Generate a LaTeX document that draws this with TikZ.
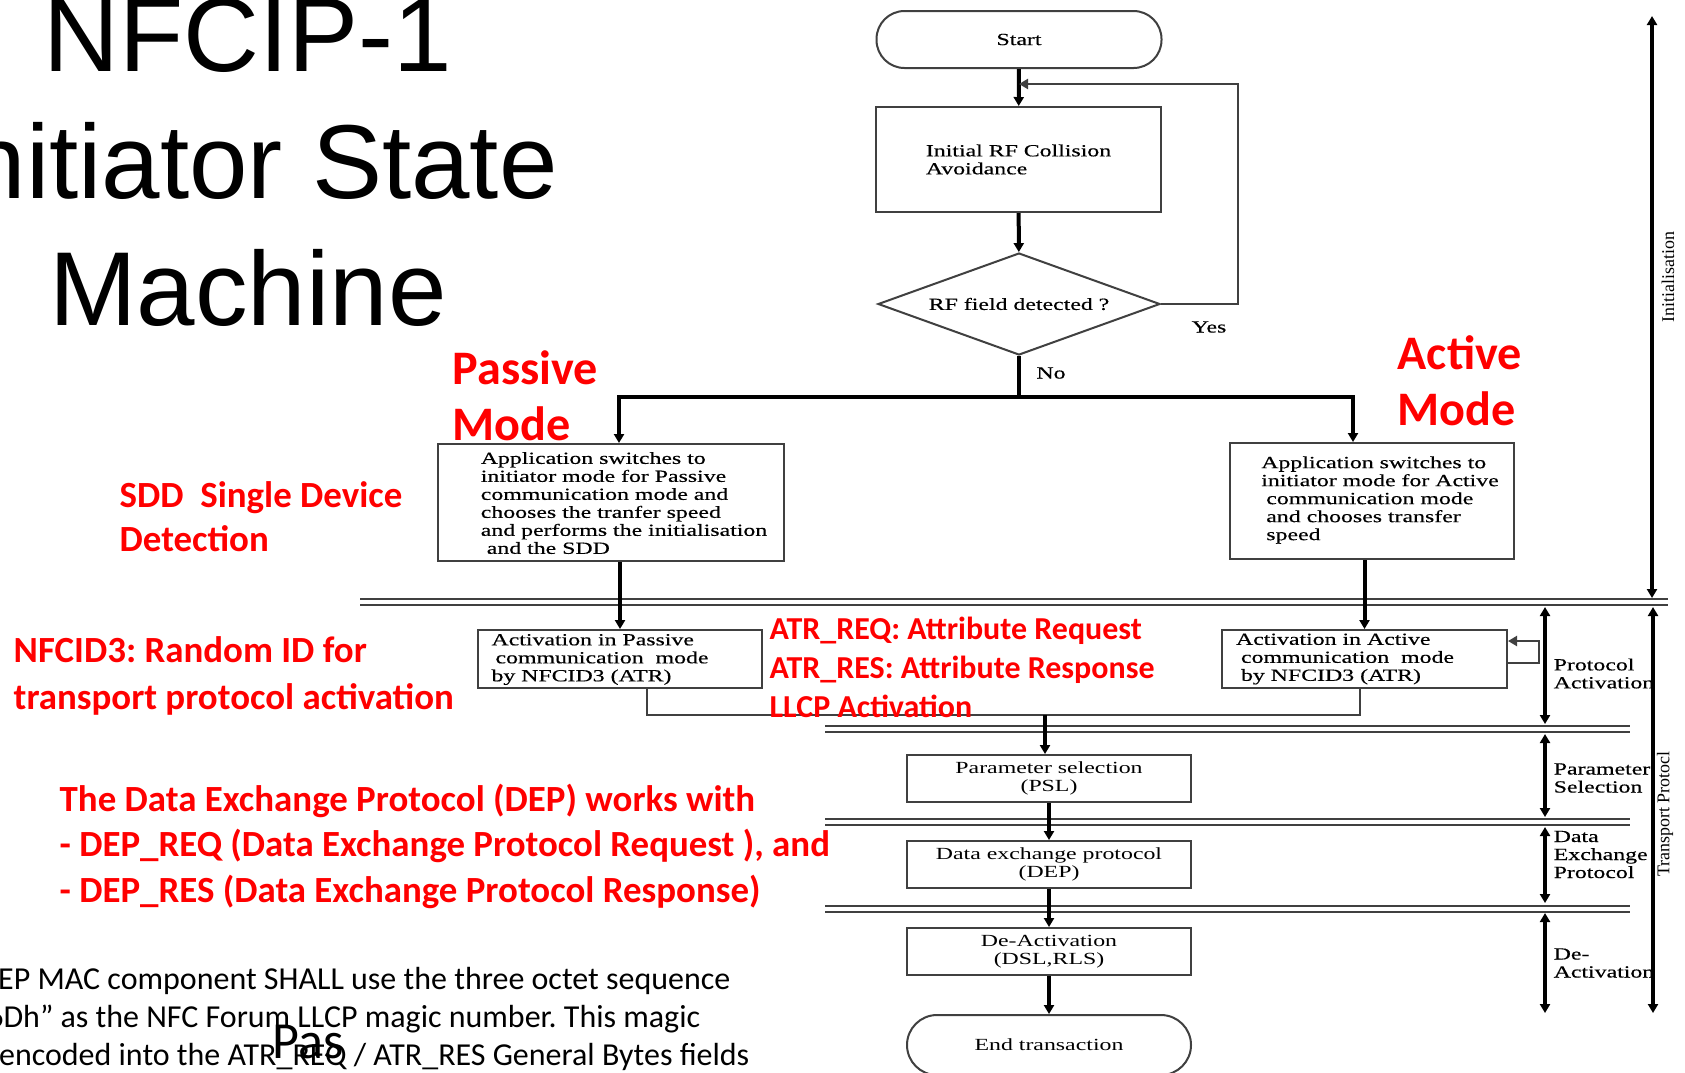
\documentclass[tikz,border=0pt]{standalone}
\usepackage{fontspec}
\setmainfont{Liberation Serif}
\newfontfamily\flowfont{Liberation Serif}[FakeStretch=1.4]
\newfontfamily\heavyflow{Liberation Serif}[FakeStretch=1.4, FakeBold=0.4]
\newfontfamily\slidefont{Carlito}
\newfontfamily\titlefont{Liberation Sans}
\usetikzlibrary{arrows.meta, shapes.geometric}

\newcommand{\flowsize}{\fontsize{4.84pt}{5.12pt}\selectfont}
\frenchspacing

\begin{document}
\begin{tikzpicture}[x=0.1mm, y=-0.1mm, >={Triangle[length=0.9mm, width=1mm]},
    box/.style={draw=black!75, line width=0.2mm, inner sep=0pt},
    term/.style={box, rounded corners=2.8mm},
    ftxt/.style={font=\heavyflow\flowsize, align=left, inner sep=0pt},
    ctxt/.style={font=\heavyflow\flowsize, align=center, inner sep=0pt},
    ptxt/.style={font=\flowfont\flowsize, align=center, inner sep=0pt},
    trunk/.style={line width=0.4mm},
    flow/.style={trunk, ->},
    loopline/.style={line width=0.25mm, black!75},
    sepline/.style={line width=0.18mm, black!75},
    span/.style={<->, line width=0.4mm},
    redtxt/.style={text=red, inner sep=0pt, anchor=base west, align=left},
    bodytxt/.style={inner sep=0pt, anchor=base east,
                    font=\slidefont\fontsize{9.1pt}{10.8pt}\selectfont}]
  \useasboundingbox (0,0) rectangle (1685,1072);
  \clip (0,0) rectangle (1685,1072);
  \fill[white] (0,0) rectangle (1685,1072);

  % Phase separators (double lines)
  \foreach \ya/\xa/\xb in {599/360/1668, 726/825/1630, 819/825/1630, 906/825/1630} {
    \draw[sepline] (\xa,\ya) -- (\xb,\ya);
    \draw[sepline] (\xa,{\ya+6}) -- (\xb,{\ya+6});
  }

  % Flow chart states
  \node[term, minimum width=28.5mm, minimum height=5.7mm, ctxt] (start) at (1019,39.5) {Start};
  \node[box, minimum width=28.5mm, minimum height=10.5mm, ftxt] (rfca) at (1018.5,159.5)
    {Initial RF Collision\\Avoidance};
  \node[box, diamond, aspect=2.8, minimum width=28.2mm, minimum height=10.2mm, ctxt] (chk)
    at (1019,304) {RF field detected ?};
  \node[ctxt] (yes) at (1209,327) {Yes};
  \node[ctxt] (no) at (1051,373) {No};

  \node[box, minimum width=34.6mm, minimum height=11.7mm] (passive) at (611,502.5) {};
  \node[ftxt] (passiveT) at (624,503)
    {Application switches to\\initiator mode for Passive\\communication mode and\\chooses the tranfer speed\\and performs the initialisation\\\hspace*{0.6mm}and the SDD};
  \node[box, minimum width=28.4mm, minimum height=11.6mm] (active) at (1372,501) {};
  \node[ftxt] (activeT) at (1380,500)
    {Application switches to\\initiator mode for Active\\\hspace*{0.5mm}communication mode\\\hspace*{0.5mm}and chooses transfer\\\hspace*{0.5mm}speed};

  \node[box, minimum width=28.4mm, minimum height=5.8mm] (actpas) at (620,659) {};
  \node[ftxt] (actpasT) at (600,659.5)
    {Activation in Passive\\\hspace*{0.4mm}communication\ \ mode\\by NFCID3 (ATR)};
  \node[box, minimum width=28.5mm, minimum height=5.8mm] (actact) at (1364.5,659) {};
  \node[ftxt] (actactT) at (1345,659)
    {Activation in Active\\\hspace*{0.5mm}communication\ \ mode\\\hspace*{0.5mm}by NFCID3 (ATR)};

  \node[box, minimum width=28.4mm, minimum height=4.7mm, ptxt] (psl) at (1049,778.5)
    {Parameter selection\\(PSL)};
  \node[box, minimum width=28.4mm, minimum height=4.7mm, ptxt] (dep) at (1049,864.5)
    {Data exchange protocol\\(DEP)};
  \node[box, minimum width=28.4mm, minimum height=4.7mm, ptxt] (deact) at (1049,951.5)
    {De-Activation\\(DSL,RLS)};
  \node[term, rounded corners=3mm, minimum width=28.4mm, minimum height=6mm, ptxt] (endt)
    at (1049,1045) {End transaction};

  % Transitions
  \coordinate (fbR) at (1238,84);
  \coordinate (split) at (1019,397);
  \coordinate (merge) at (1045,715);
  \draw[flow] (start) -- (rfca);
  \draw[flow] (rfca) -- (chk);
  \draw[loopline, ->] (chk.east) -| (fbR) -- (start.south |- fbR);
  \draw[trunk] (chk.south) -- (split);
  \draw[flow] (split) -| ([xshift=0.8mm]passive.north);
  \draw[flow] (split) -| ([xshift=-1.9mm]active.north);
  \draw[flow] (actpas.north |- passive.south) -- (actpas.north);
  \draw[flow] (actact.north |- active.south) -- (actact.north);
  \draw[loopline] ([xshift=2.7mm]actpas.south) |- (merge) -| ([xshift=-0.45mm]actact.south);
  \draw[loopline, ->] ([yshift=-0.4mm]actact.east) -- ++(3.1mm,0) |- ([yshift=1.8mm]actact.east);
  \draw[flow] (merge) -- (merge |- psl.north);
  \draw[flow] (psl) -- (dep);
  \draw[flow] (dep) -- (deact);
  \draw[flow] (deact) -- (endt);

  % Phase labels and spans
  \node[ftxt, anchor=west] (paL) at (1553,673.5) {Protocol\\Activation};
  \node[ftxt, anchor=west] (psL) at (1553,778) {Parameter\\Selection};
  \node[ftxt, anchor=west] (deL) at (1553,854.5) {Data\\Exchange\\Protocol};
  \node[ftxt, anchor=west] (daL) at (1553,963) {De-\\Activation};
  \node[font=\fontsize{5.1pt}{6pt}\selectfont, rotate=90, inner sep=0pt] (initL) at (1668,277) {Initialisation};
  \node[font=\fontsize{5.1pt}{6pt}\selectfont, rotate=90, inner sep=0pt] (tpL) at (1665,814) {Transport Protocl};

  \coordinate (initTop) at (1652,16);
  \coordinate (initBot) at (1652,598);
  \coordinate (tpTop) at (1653,607);
  \coordinate (tpBot) at (1653,1013);
  \draw[span] (initTop) -- (initBot);
  \draw[span] (tpTop) -- (tpBot);
  \foreach \n/\ya/\yb in {pa/607/724, ps/734/817, de/827/903, da/913/1013} {
    \coordinate (\n Top) at (1545,\ya);
    \coordinate (\n Bot) at (1545,\yb);
    \draw[span] (\n Top) -- (\n Bot);
  }

  % Slide notes (multi-line nodes sit on their last baseline)
  \node[font=\titlefont\fontsize{29.9pt}{36.1pt}\selectfont, align=center, anchor=base, inner sep=0pt]
    (title) at (248,325) {NFCIP-1\\Initiator State\\Machine};
  \node[redtxt, font=\slidefont\bfseries\fontsize{13.7pt}{15.9pt}\selectfont] (pasMode) at (452,440) {Passive\\Mode};
  \node[redtxt, font=\slidefont\bfseries\fontsize{13.7pt}{15.9pt}\selectfont] (actMode) at (1397,425) {Active\\Mode};
  \node[redtxt, font=\slidefont\bfseries\fontsize{10.5pt}{12.5pt}\selectfont] (sdd) at (119,551)
    {SDD\ \ Single Device\\Detection};
  \node[redtxt, font=\slidefont\bfseries\fontsize{10.5pt}{13.1pt}\selectfont] (nfcid) at (13,709)
    {NFCID3: Random ID for\\transport protocol activation};
  \node[redtxt, font=\slidefont\bfseries\fontsize{9.1pt}{11pt}\selectfont] (atr) at (769,717)
    {ATR\_REQ: Attribute Request\\ATR\_RES: Attribute Response\\LLCP Activation};
  \node[redtxt, font=\slidefont\bfseries\fontsize{10.5pt}{12.9pt}\selectfont] (depNote) at (59,902)
    {The Data Exchange Protocol (DEP) works with\\- DEP\_REQ (Data Exchange Protocol Request ), and\\- DEP\_RES (Data Exchange Protocol Response)};

  \node[bodytxt] (llcp1) at (731,989) {EP MAC component SHALL use the three octet sequence};
  \node[bodytxt] (llcp2) at (701,1027) {6Dh” as the NFC Forum LLCP magic number. This magic};
  \node[bodytxt] (llcp3) at (750,1065) {encoded into the ATR\_REQ / ATR\_RES General Bytes fields};
  \node[anchor=base west, inner sep=0pt, font=\slidefont\fontsize{14.8pt}{16pt}\selectfont] (pas)
    at (272,1058) {Pas};
\end{tikzpicture}
\end{document}
